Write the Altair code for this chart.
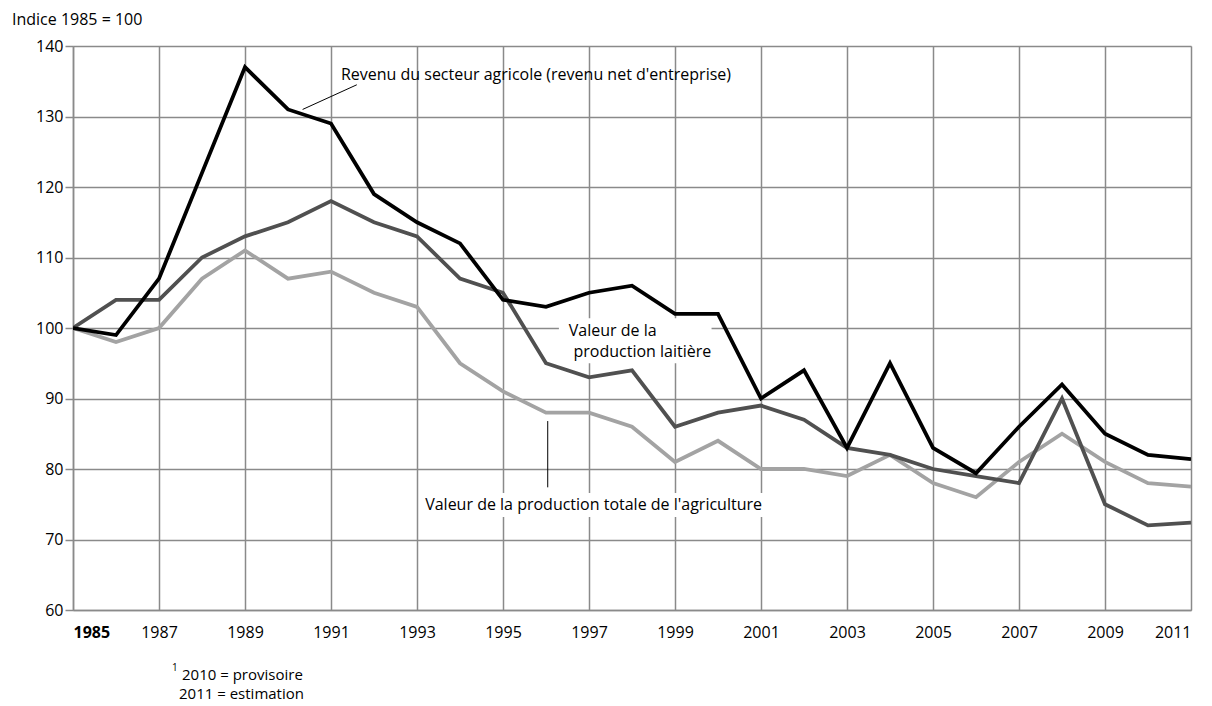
import altair as alt
import pandas as pd

years = list(range(1985, 2012))
revenu = [100, 99, 107, 122, 137, 131, 129, 119, 115, 112, 104, 103, 105, 106, 102, 102,
          90, 94, 83, 95, 83, 79.4, 86, 92, 85, 82, 81.4]
laitiere = [100, 104, 104, 110, 113, 115, 118, 115, 113, 107, 105, 95, 93, 94, 86, 88,
            89, 87, 83, 82, 80, 79, 78, 90, 75, 72, 72.4]
totale = [100, 98, 100, 107, 111, 107, 108, 105, 103, 95, 91, 88, 88, 86, 81, 84,
          80, 80, 79, 82, 78, 76, 81, 85, 81, 78, 77.5]

series_names = ["Revenu", "Laitière", "Totale"]
series_colors = ["#000000", "#505050", "#a3a3a3"]

x_ticks = list(range(1985, 2012, 2))
y_ticks = list(range(60, 141, 10))

FONT = "Open Sans"

rows = []
for name, vals in zip(series_names, [revenu, laitiere, totale]):
    for y, v in zip(years, vals):
        rows.append({"year": y, "value": v, "series": name})
df = pd.DataFrame(rows)

xs = alt.Scale(domain=[1985, 2011], nice=False, zero=False)
ys = alt.Scale(domain=[60, 140], nice=False, zero=False)

x_axis = alt.Axis(values=x_ticks, format="d", grid=True, gridColor="#8a8a8a", gridWidth=1.5,
                  gridOpacity=1, ticks=False, labelPadding=14, labelFontSize=16, labelFont=FONT,
                  labelColor="#000", domainColor="#8a8a8a", domainWidth=1.5, title=None,
                  labelFontWeight={"condition": {"test": "datum.value == 1985", "value": "bold"}, "value": "normal"})
y_axis = alt.Axis(values=y_ticks, grid=True, gridColor="#8a8a8a", gridWidth=1.5, gridOpacity=1,
                  tickSize=8, tickColor="#8a8a8a", tickWidth=1.5, labelPadding=2, labelFontSize=16,
                  labelFont=FONT, labelColor="#000", domainColor="#8a8a8a", domainWidth=1.5, title=None)

base = alt.Chart(df)

grid_layer = base.mark_line(opacity=0).encode(
    x=alt.X("year:Q", scale=xs, axis=x_axis),
    y=alt.Y("value:Q", scale=ys, axis=y_axis),
)

lines = []
for name, col in reversed(list(zip(series_names, series_colors))):
    lines.append(
        base.transform_filter(alt.datum.series == name).mark_line(
            color=col, strokeWidth=3.8, strokeJoin="miter", clip=True
        ).encode(x=alt.X("year:Q", scale=xs), y=alt.Y("value:Q", scale=ys))
    )

# annotations (in data units)
boxes = pd.DataFrame([
    {"x1": 1996.3, "x2": 1999.85, "y1": 101.4, "y2": 95.0},
    {"x1": 1993.07, "x2": 2001.16, "y1": 76.6, "y2": 73.2},
])
box_layer = alt.Chart(boxes).mark_rect(color="white").encode(
    x=alt.X("x1:Q", scale=xs), x2="x2:Q", y=alt.Y("y1:Q", scale=ys), y2="y2:Q"
)

leaders = pd.DataFrame([
    {"x1": 1990.34, "y1": 131.0, "x2": 1991.6, "y2": 134.5},
    {"x1": 1996.04, "y1": 86.8, "x2": 1996.04, "y2": 77.4},
])
leader_layer = alt.Chart(leaders).mark_rule(color="#000", strokeWidth=1).encode(
    x=alt.X("x1:Q", scale=xs), y=alt.Y("y1:Q", scale=ys), x2="x2:Q", y2="y2:Q"
)

labels = pd.DataFrame([
    {"x": 1991.23, "y": 135.9, "t": "Revenu du secteur agricole (revenu net d'entreprise)"},
    {"x": 1996.53, "y": 99.6, "t": "Valeur de la"},
    {"x": 1996.64, "y": 96.6, "t": "production laitière"},
    {"x": 1993.19, "y": 74.9, "t": "Valeur de la production totale de l'agriculture"},
])
label_layer = alt.Chart(labels).mark_text(
    align="left", baseline="middle", fontSize=16, font=FONT, color="#000"
).encode(x=alt.X("x:Q", scale=xs), y=alt.Y("y:Q", scale=ys), text="t:N")

notes = pd.DataFrame([
    {"px": -61, "py": -26, "t": "Indice 1985 = 100", "s": 16},
    {"px": 99, "py": 622, "t": "1", "s": 10},
    {"px": 109, "py": 629, "t": "2010 = provisoire", "s": 15},
    {"px": 106, "py": 648, "t": "2011 = estimation", "s": 15},
])
note_layers = []
for _, r in notes.iterrows():
    note_layers.append(
        alt.Chart(pd.DataFrame([{"t": r["t"]}])).mark_text(
            align="left", baseline="middle", fontSize=int(r["s"]), font=FONT, color="#000"
        ).encode(x=alt.value(int(r["px"])), y=alt.value(int(r["py"])), text="t:N")
    )

chart = alt.layer(grid_layer, *lines, box_layer, leader_layer, label_layer, *note_layers).properties(
    width=1118, height=564,
    autosize=alt.AutoSizeParams(type="none"),
    padding={"left": 65, "top": 38, "right": 12, "bottom": 94},
).configure_view(stroke=None).configure(background="white")

chart.save("out.html", embed_options={"renderer": "svg", "actions": False})
